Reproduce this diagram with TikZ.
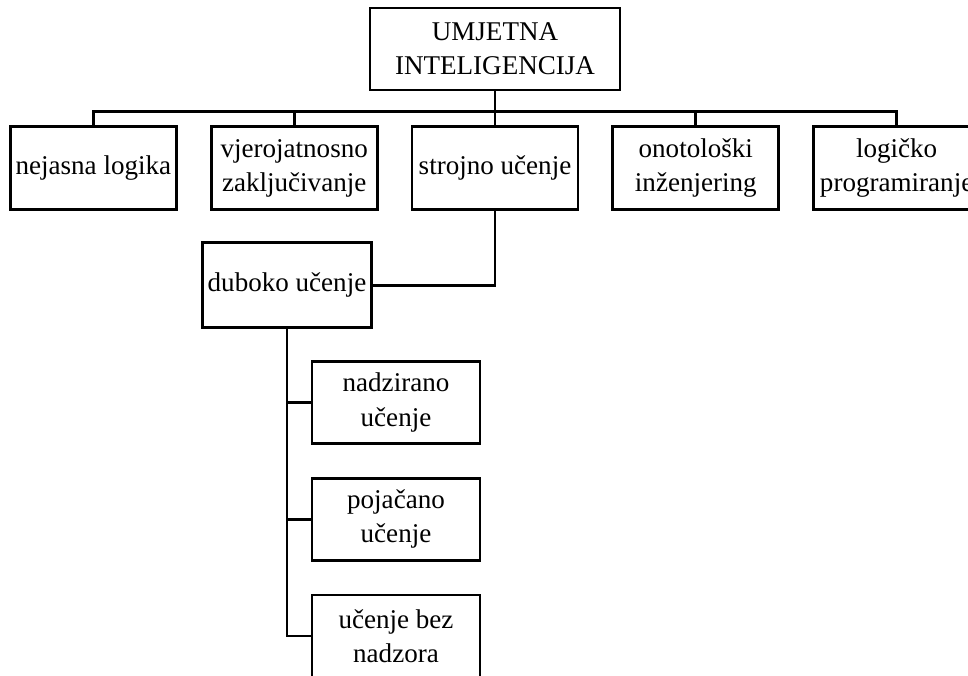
\documentclass[tikz,border=0pt]{standalone}
\usepackage{fontspec}
\setmainfont{Liberation Serif}
\usepackage{tikz}
\usetikzlibrary{positioning}
\tikzstyle{rootbox} = [rectangle, minimum width=5cm, minimum height=1.64cm, text centered, draw=black, align=center, line width=1.6pt, inner xsep=1pt, font=\fontsize{15.4}{19.5}\selectfont]
\tikzstyle{box} = [rectangle, minimum width=3.32cm, minimum height=1.66cm, text centered, draw=black, align=center, line width=1.6pt, inner xsep=1pt, font=\fontsize{15.4}{19.5}\selectfont]
\tikzstyle{subbox} = [rectangle, minimum width=3.36cm, minimum height=1.64cm, text centered, draw=black, align=center, line width=1.6pt, inner xsep=1pt, font=\fontsize{15.4}{19.5}\selectfont]
\tikzstyle{link} = [line width=1.6pt]

\begin{document}
\begin{tikzpicture}[node distance=0.64cm]
			\useasboundingbox (0,0) rectangle (19.36,-13.5);
			\node[rootbox] (root) at (9.9,-0.98) {UMJETNA\\INTELIGENCIJA};
			
			\node[box, below=0.68cm of root] (strojno) {strojno učenje};
			\node[box, left=of strojno] (vjer) {vjerojatnosno\\zaključivanje};
			\node[box, left=of vjer] (nejasna) {nejasna logika};
			\node[box, right=of strojno] (onto) {onotološki\\inženjering};
			\node[box, right=of onto] (logicko) {logičko\\programiranje};
			
			\node[box, minimum width=3.38cm, minimum height=1.7cm, below=0.6cm of strojno, xshift=-4.16cm] (duboko) {duboko učenje};
			\node[subbox, below=0.62cm of duboko, xshift=2.18cm] (nadz) {nadzirano\\učenje};
			\node[subbox, below=of nadz] (poj) {pojačano\\učenje};
			\node[subbox, below=of poj] (bez) {učenje bez\\nadzora};
			
			%lines
			\foreach \n in {nejasna,vjer,strojno,onto,logicko}
				\draw[link] (root.south) -- ++(0,-0.4) -| (\n.north);
			\draw[link] (strojno.south) |- (duboko.east);
			\draw[link] (duboko.south) |- (bez.west);
			\draw[link] (duboko.south |- nadz.west) -- (nadz.west);
			\draw[link] (duboko.south |- poj.west) -- (poj.west);
			
			%	
		\end{tikzpicture}
\end{document}
